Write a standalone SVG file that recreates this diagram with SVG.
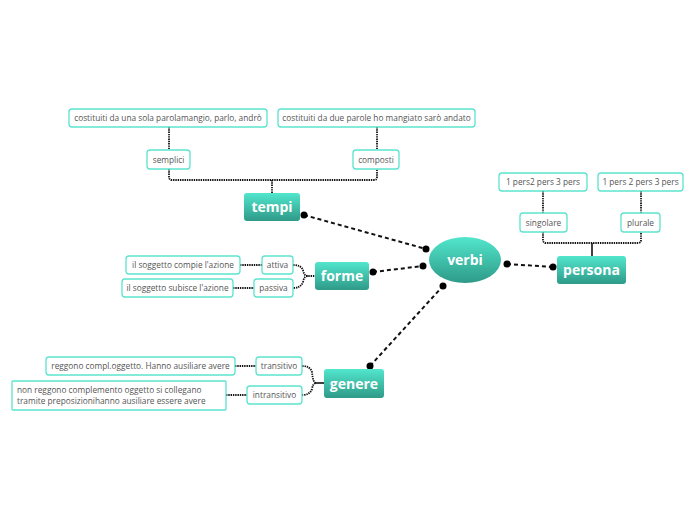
<svg xmlns="http://www.w3.org/2000/svg" width="696" height="520" viewBox="0 0 696 520">
<defs>
<linearGradient id="g" x1="0" y1="0" x2="0" y2="1">
<stop offset="0" stop-color="#52e6cd"/>
<stop offset="1" stop-color="#2e9a88"/>
</linearGradient>
</defs>
<style>
.main{fill:url(#g);}
.mt{font-family:"Open Sans","DejaVu Sans",sans-serif;font-weight:bold;font-size:14px;fill:#fff;text-anchor:middle;}
.sub{fill:#fff;stroke:#5ce3cd;stroke-width:1.3;}
.st{font-family:"Open Sans","DejaVu Sans",sans-serif;font-size:8.3px;fill:#555;text-anchor:middle;}
.sl{font-family:"Open Sans","DejaVu Sans",sans-serif;font-size:8.3px;fill:#555;}
.dash{fill:none;stroke:#111;stroke-width:2;stroke-dasharray:4 3;}
.dot{fill:none;stroke:#111;stroke-width:1.8;stroke-dasharray:1.4 0.9;}
.sol{fill:none;stroke:#111;stroke-width:1.6;}
.end{fill:#000;}
</style>
<rect width="696" height="520" fill="#fff"/>
<g id="connectors">
<line class="dash" x1="304" y1="215" x2="426" y2="249"/>
<line class="dash" x1="373" y1="272" x2="423" y2="266"/>
<line class="dash" x1="370" y1="366" x2="443" y2="286"/>
<line class="dash" x1="507" y1="264" x2="553" y2="267"/>
<circle class="end" cx="304" cy="215" r="3.5"/>
<circle class="end" cx="426" cy="249" r="3.5"/>
<circle class="end" cx="373" cy="272" r="3.5"/>
<circle class="end" cx="423" cy="266" r="3.5"/>
<circle class="end" cx="370" cy="366" r="3.5"/>
<circle class="end" cx="443" cy="286" r="3.5"/>
<circle class="end" cx="507" cy="264" r="3.5"/>
<circle class="end" cx="553" cy="267" r="3.5"/>
<!-- tempi -->
<line class="dot" x1="169" y1="127" x2="169" y2="150"/>
<line class="dot" x1="377" y1="127" x2="377" y2="150"/>
<path class="dot" d="M169 169 V177 Q169 180 172 180 H374 Q377 180 377 177 V169"/>
<line class="dot" x1="272" y1="180" x2="272" y2="193"/>
<!-- persona -->
<line class="dot" x1="543" y1="191" x2="543" y2="213"/>
<line class="dot" x1="641" y1="191" x2="641" y2="213"/>
<path class="dot" d="M543 232 V240 Q543 243 546 243 H638 Q641 243 641 240 V232"/>
<line class="sol" x1="592" y1="243" x2="592" y2="256"/>
<!-- forme -->
<line class="dot" x1="240" y1="265" x2="262" y2="265"/>
<line class="dot" x1="233" y1="288" x2="254" y2="288"/>
<path class="dot" d="M293 265 Q301 265 303 270 Q304 276 308 276 Q304 276 303 282 Q301 288 293 288"/>
<line class="dot" x1="306" y1="276" x2="315" y2="276"/>
<!-- genere -->
<line class="dot" x1="235" y1="366" x2="256" y2="366"/>
<line class="dot" x1="226" y1="395" x2="247" y2="395"/>
<path class="dot" d="M302 366 Q310 366 312 372 Q313 383 316 383 Q313 383 312 389 Q310 395 302 395"/>
<line class="sol" x1="315" y1="383" x2="324" y2="383"/>
</g>
<g id="verbi">
<ellipse class="main" cx="465" cy="260" rx="36" ry="23"/>
<text class="mt" x="465" y="265">verbi</text>
</g>
<g id="tempi">
<rect class="main" x="244" y="193" width="56" height="28" rx="3"/>
<text class="mt" x="272" y="212">tempi</text>
</g>
<g id="forme">
<rect class="main" x="315" y="262" width="54" height="28" rx="3"/>
<text class="mt" x="342" y="281">forme</text>
</g>
<g id="genere">
<rect class="main" x="324" y="369" width="60" height="29" rx="3"/>
<text class="mt" x="354" y="389">genere</text>
</g>
<g id="persona">
<rect class="main" x="557" y="256" width="69" height="28" rx="3"/>
<text class="mt" x="591.5" y="275">persona</text>
</g>
<g id="tempi-sola">
<rect class="sub" x="69" y="109" width="198" height="18" rx="3"/>
<text class="st" x="168" y="121">costituiti da una sola parolamangio, parlo, andrò</text>
</g>
<g id="tempi-due">
<rect class="sub" x="278" y="109" width="197" height="18" rx="3"/>
<text class="st" x="376.5" y="121">costituiti da due parole ho mangiato sarò andato</text>
</g>
<g id="semplici">
<rect class="sub" x="147" y="150" width="43" height="19" rx="3"/>
<text class="st" x="168.5" y="162.5">semplici</text>
</g>
<g id="composti">
<rect class="sub" x="353" y="150" width="46" height="19" rx="3"/>
<text class="st" x="376" y="162.5">composti</text>
</g>
<g id="pers-sing">
<rect class="sub" x="499" y="173" width="88" height="18" rx="3"/>
<text class="st" x="543" y="185">1 pers2 pers 3 pers</text>
</g>
<g id="pers-plur">
<rect class="sub" x="598" y="173" width="85" height="18" rx="3"/>
<text class="st" x="640.5" y="185">1 pers 2 pers 3 pers</text>
</g>
<g id="singolare">
<rect class="sub" x="520" y="213" width="47" height="19" rx="3"/>
<text class="st" x="543.5" y="225.5">singolare</text>
</g>
<g id="plurale">
<rect class="sub" x="621" y="213" width="39" height="19" rx="3"/>
<text class="st" x="640.5" y="225.5">plurale</text>
</g>
<g id="attiva">
<rect class="sub" x="262" y="256" width="31" height="18" rx="3"/>
<text class="st" x="277.5" y="268">attiva</text>
</g>
<g id="passiva">
<rect class="sub" x="254" y="279" width="39" height="18" rx="3"/>
<text class="st" x="273.5" y="291">passiva</text>
</g>
<g id="compie">
<rect class="sub" x="126" y="256" width="114" height="18" rx="3"/>
<text class="st" x="183" y="268">il soggetto compie l'azione</text>
</g>
<g id="subisce">
<rect class="sub" x="122" y="279" width="111" height="18" rx="3"/>
<text class="st" x="177.5" y="291">il soggetto subisce l'azione</text>
</g>
<g id="transitivo">
<rect class="sub" x="256" y="357" width="46" height="18" rx="3"/>
<text class="st" x="279" y="369">transitivo</text>
</g>
<g id="intransitivo">
<rect class="sub" x="247" y="386" width="55" height="18" rx="3"/>
<text class="st" x="274.5" y="398">intransitivo</text>
</g>
<g id="trans-desc">
<rect class="sub" x="46" y="357" width="189" height="18" rx="3"/>
<text class="st" x="140.5" y="369">reggono compl.oggetto. Hanno ausiliare avere</text>
</g>
<g id="intrans-desc">
<rect class="sub" x="12" y="381" width="214" height="29" rx="1"/>
<text class="sl" x="17" y="392.5">non reggono complemento oggetto si collegano</text>
<text class="sl" x="17" y="404">tramite preposizionihanno ausiliare essere avere</text>
</g>
</svg>
